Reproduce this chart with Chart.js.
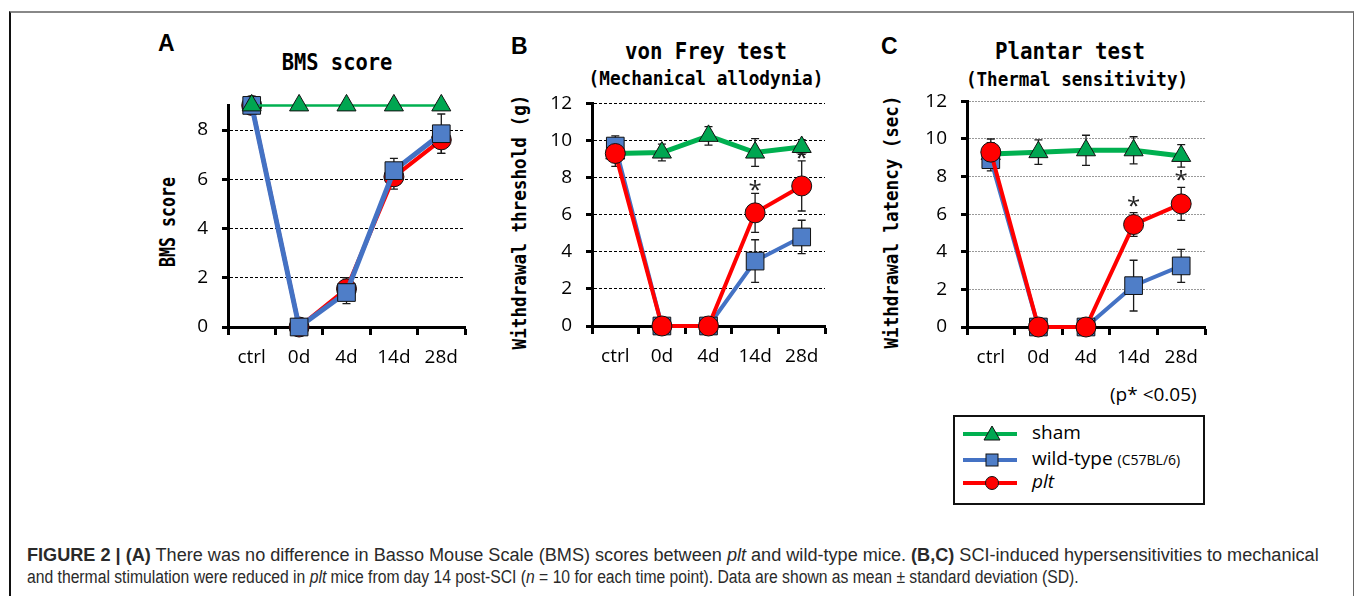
<!DOCTYPE html>
<html>
<head>
<meta charset="utf-8">
<script src="https://cdn.jsdelivr.net/npm/chart.js@4.4.1/dist/chart.umd.min.js"></script>
<style>
  body { margin: 0; background: #fff; }
  #page { position: relative; width: 1355px; height: 596px; overflow: hidden; background: #fff; font-family: "Open Sans", sans-serif; color: #000; }
  .frame { position: absolute; left: 9px; top: 11px; width: 1342px; height: 600px; border-left: 2px solid #111; border-top: 2px solid #888; border-right: 1px solid #666; }
  canvas { position: absolute; }
  .txt { position: absolute; white-space: nowrap; line-height: 1; }
  .mono { font-family: "DejaVu Sans Mono", monospace; font-weight: bold; }
  .letter { font-family: "Liberation Sans", Arial, sans-serif; font-weight: bold; font-size: 23px; }
  .leg { font-size: 19px; }
  .cap { font-family: "Liberation Sans", Arial, sans-serif; font-size: 18px; color: #2a2a2a; transform-origin: 0 50%; }
</style>
</head>
<body>
<div id="page">
  <div class="frame"></div>

  <div class="txt letter" style="left:158px;top:32px;">A</div>
  <div class="txt letter" style="left:511px;top:35px;">B</div>
  <div class="txt letter" style="left:881px;top:35px;">C</div>

  <div class="txt mono fit" data-w="111" data-x="337" data-y="62" style="font-size:23px;">BMS score</div>
  <div class="txt mono fit" data-w="162" data-x="706" data-y="51" style="font-size:23px;">von Frey test</div>
  <div class="txt mono fit" data-w="235" data-x="706" data-y="78" style="font-size:19px;">(Mechanical allodynia)</div>
  <div class="txt mono fit" data-w="150" data-x="1070" data-y="51" style="font-size:23px;">Plantar test</div>
  <div class="txt mono fit" data-w="222" data-x="1077" data-y="79" style="font-size:19px;">(Thermal sensitivity)</div>

  <div class="txt mono fit" data-w="90" data-x="168" data-y="222" data-rot="1" style="font-size:22px;">BMS score</div>
  <div class="txt mono fit" data-w="255" data-x="519" data-y="222" data-rot="1" style="font-size:20px;">Withdrawal threshold (g)</div>
  <div class="txt mono fit" data-w="253" data-x="891" data-y="222" data-rot="1" style="font-size:20px;">Withdrawal latency (sec)</div>

  <canvas id="chartA" width="330" height="300" style="left:150px;top:80px;"></canvas>
  <canvas id="chartB" width="330" height="302" style="left:510px;top:78px;"></canvas>
  <canvas id="chartC" width="335" height="304" style="left:885px;top:76px;"></canvas>

  <div class="txt leg" style="left:1110px;top:385px;">(p* &lt;0.05)</div>

  <div style="position:absolute;left:953px;top:415px;width:248px;height:86px;border:2px solid #111;"></div>
  <svg style="position:absolute;left:953px;top:415px;" width="80" height="90">
    <line x1="10" x2="64" y1="19" y2="19" stroke="#00b050" stroke-width="4"/>
    <polygon points="39,11 47,25 31,25" fill="#00a651" stroke="#111" stroke-width="1"/>
    <line x1="10" x2="64" y1="45" y2="45" stroke="#4472c4" stroke-width="4"/>
    <rect x="33" y="39" width="12" height="12" fill="#4f7ec8" stroke="#111" stroke-width="1"/>
    <line x1="10" x2="64" y1="68" y2="68" stroke="#ff0000" stroke-width="4"/>
    <circle cx="39" cy="68" r="6.5" fill="#ff0000" stroke="#111" stroke-width="1"/>
  </svg>
  <div class="txt leg" style="left:1032px;top:423px;">sham</div>
  <div class="txt leg" style="left:1032px;top:449px;">wild-type <span style="font-size:14px;">(C57BL/6)</span></div>
  <div class="txt leg" style="left:1032px;top:472px;"><i>plt</i></div>

  <div class="txt cap capfit" data-w="1292" style="left:27px;top:546px;"><b>FIGURE 2</b> <b>|</b> <b>(A)</b> There was no difference in Basso Mouse Scale (BMS) scores between <i>plt</i> and wild-type mice. <b>(B,C)</b> SCI-induced hypersensitivities to mechanical</div>
  <div class="txt cap capfit" data-w="1052" style="left:27px;top:568px;">and thermal stimulation were reduced in <i>plt</i> mice from day 14 post-SCI (<i>n</i> = 10 for each time point). Data are shown as mean ± standard deviation (SD).</div>
</div>

<script>
// time points
const categories = ['ctrl', '0d', '4d', '14d', '28d'];

// A: BMS score
const bmsTicks = [0, 2, 4, 6, 8];
const bmsSham = [9, 9, 9, 9, 9];
const bmsWild = [9, 0, 1.4, 6.35, 7.85];
const bmsWildSD = [0, 0, 0.45, 0.5, 0.8];
const bmsPlt = [9, 0, 1.55, 6.1, 7.6];
const bmsPltSD = [0, 0, 0.45, 0.5, 0.55];

// B: von Frey test
const vfTicks = [0, 2, 4, 6, 8, 10, 12];
const vfSham = [9.3, 9.35, 10.25, 9.35, 9.65];
const vfShamSD = [0.4, 0.45, 0.5, 0.75, 0.4];
const vfWild = [9.7, 0, 0, 3.5, 4.8];
const vfWildSD = [0.55, 0, 0, 1.15, 0.9];
const vfPlt = [9.3, 0, 0, 6.1, 7.55];
const vfPltSD = [0.7, 0, 0, 1.05, 1.35];
const vfStars = [null, null, null, 7.6, 9.3];

// C: Plantar test
const plTicks = [0, 2, 4, 6, 8, 10, 12];
const plSham = [9.2, 9.3, 9.4, 9.4, 9.1];
const plShamSD = [0.6, 0.65, 0.8, 0.72, 0.6];
const plWild = [8.9, 0, 0, 2.2, 3.25];
const plWildSD = [0.6, 0, 0, 1.35, 0.88];
const plPlt = [9.3, 0, 0, 5.45, 6.55];
const plPltSD = [0.7, 0, 0, 0.63, 0.88];
const plStars = [null, null, null, 6.7, 8.1];

const GREEN = '#00b050', GREEN_FILL = '#00a651';
const BLUE = '#4472c4', BLUE_FILL = '#4f7ec8';
const RED = '#ff0000';

// error bars + asterisks, drawn under the series
function makeMarks(stars) {
    return {
        id: 'marks',
        beforeDatasetsDraw: function(chart) {
            const ctx = chart.ctx;
            const y = chart.scales.y;
            const x = chart.scales.x;
            ctx.save();
            ctx.strokeStyle = '#1a1a1a';
            ctx.lineWidth = 1.3;
            chart.data.datasets.forEach((ds, i) => {
                const meta = chart.getDatasetMeta(i);
                (ds.errors || []).forEach((e, j) => {
                    if (!e) return;
                    const px = meta.data[j].x;
                    const top = y.getPixelForValue(ds.data[j] + e);
                    const bot = y.getPixelForValue(ds.data[j] - e);
                    ctx.beginPath();
                    ctx.moveTo(px, top); ctx.lineTo(px, bot);
                    ctx.moveTo(px - 4, top); ctx.lineTo(px + 4, top);
                    ctx.moveTo(px - 4, bot); ctx.lineTo(px + 4, bot);
                    ctx.stroke();
                });
            });
            ctx.fillStyle = '#222';
            ctx.font = '24px "Open Sans"';
            ctx.textAlign = 'center';
            ctx.textBaseline = 'alphabetic';
            (stars || []).forEach((v, j) => {
                if (v == null) return;
                ctx.fillText('*', x.getPixelForValue(j), y.getPixelForValue(v) + 13);
            });
            ctx.restore();
        }
    };
}

function shamSet(data, sd, width) {
    return {
        label: 'sham', data: data, errors: sd,
        borderColor: GREEN, borderWidth: width,
        pointStyle: 'triangle', pointRadius: 11,
        pointBackgroundColor: GREEN_FILL, pointBorderColor: '#111', pointBorderWidth: 1,
        clip: false
    };
}
function wildSet(data, sd, width) {
    return {
        label: 'wild-type (C57BL/6)', data: data, errors: sd,
        borderColor: BLUE, borderWidth: width,
        pointStyle: 'rect', pointRadius: 12.5,
        pointBackgroundColor: BLUE_FILL, pointBorderColor: '#111', pointBorderWidth: 1,
        clip: false
    };
}
function pltSet(data, sd, width) {
    return {
        label: 'plt', data: data, errors: sd,
        borderColor: RED, borderWidth: width,
        pointStyle: 'circle', pointRadius: 10,
        pointBackgroundColor: RED, pointBorderColor: '#111', pointBorderWidth: 1,
        clip: false
    };
}

function makeChart(id, cfg) {
    const tickFont = { family: '"Open Sans"', size: 19 };
    return new Chart(document.getElementById(id), {
        type: 'line',
        data: { labels: categories, datasets: cfg.datasets },
        plugins: [makeMarks(cfg.stars)],
        options: {
            responsive: false,
            animation: false,
            devicePixelRatio: 1,
            // top space comes from the y tick label overflow (~24px)
            layout: { autoPadding: false, padding: { top: 0, right: cfg.right, left: 0, bottom: 0 } },
            plugins: { legend: { display: false }, tooltip: { enabled: false } },
            scales: {
                x: {
                    type: 'category',
                    offset: true,
                    afterFit: s => { s.height = cfg.xHeight; },
                    grid: {
                        offset: true, drawOnChartArea: false, drawTicks: true,
                        tickLength: 8, tickWidth: 3, tickColor: '#000'
                    },
                    border: { color: '#000', width: 3 },
                    ticks: { font: tickFont, color: '#000', padding: 11, maxRotation: 0 }
                },
                y: {
                    min: 0, max: cfg.max,
                    afterBuildTicks: s => { s.ticks = cfg.ticks.map(v => ({ value: v })); },
                    afterFit: s => { s.width = cfg.yWidth; },
                    grid: {
                        color: cfg.gridColor, lineWidth: 1,
                        drawTicks: true, tickLength: 6, tickWidth: 3, tickColor: '#000'
                    },
                    border: { color: '#000', width: 3, dash: cfg.gridDash },
                    ticks: { font: tickFont, color: '#000', padding: 14 }
                }
            }
        }
    });
}

makeChart('chartA', {
    max: 9, ticks: bmsTicks, yWidth: 78, xHeight: 53, right: 15,
    gridColor: '#000', gridDash: [3, 2], stars: [],
    datasets: [shamSet(bmsSham, null, 2.5), wildSet(bmsWild, bmsWildSD, 5), pltSet(bmsPlt, bmsPltSD, 4)]
});

makeChart('chartB', {
    max: 12, ticks: vfTicks, yWidth: 82, xHeight: 54, right: 15,
    gridColor: '#000', gridDash: [3, 2], stars: vfStars,
    datasets: [pltSet(vfPlt, vfPltSD, 4), wildSet(vfWild, vfWildSD, 4), shamSet(vfSham, vfShamSD, 5)]
});

makeChart('chartC', {
    max: 12, ticks: plTicks, yWidth: 82, xHeight: 53, right: 15,
    gridColor: '#999', gridDash: [2, 1], stars: plStars,
    datasets: [pltSet(plPlt, plPltSD, 4), wildSet(plWild, plWildSD, 4), shamSet(plSham, plShamSD, 5)]
});

// squeeze the mono headings to the reference widths
document.querySelectorAll('.fit').forEach(el => {
    const s = parseFloat(el.dataset.w) / el.offsetWidth;
    el.style.left = el.dataset.x + 'px';
    el.style.top = el.dataset.y + 'px';
    const rot = el.dataset.rot ? ' rotate(-90deg)' : '';
    el.style.transform = 'translate(-50%, -50%)' + rot + ' scaleX(' + s.toFixed(3) + ')';
});
document.querySelectorAll('.capfit').forEach(el => {
    const s = parseFloat(el.dataset.w) / el.offsetWidth;
    el.style.transform = 'scaleX(' + s.toFixed(3) + ')';
});
</script>
</body>
</html>
